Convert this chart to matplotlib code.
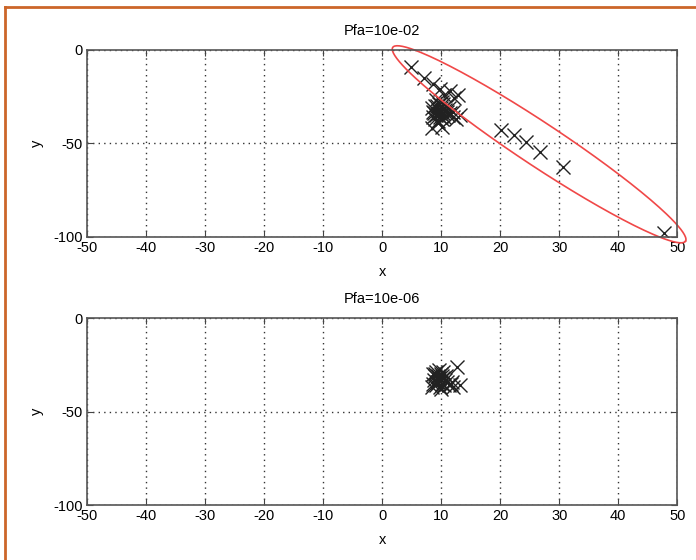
import numpy as np
import matplotlib
matplotlib.use("Agg")
import matplotlib.pyplot as plt
from matplotlib.lines import Line2D

plt.rcParams['font.family'] = ['Liberation Sans', 'DejaVu Sans']
plt.rcParams['font.size'] = 10
plt.rcParams['axes.unicode_minus'] = False

titles = ["Pfa=10e-02", "Pfa=10e-06"]

# detections, Pfa = 10e-02
x_top = [4.9, 7.1, 8.7, 9.8, 10.5, 11.5, 12.2, 12.8, 13.2, 12.0, 8.5, 10.2,
         20.2, 22.4, 24.3, 26.8, 30.6, 47.8,
         9.0, 9.5, 10.0, 8.8, 9.2, 9.8, 10.3, 10.6, 8.5, 9.6, 10.1, 8.9, 9.4,
         10.2, 11.0, 11.2, 8.7, 9.9, 9.3, 10.5, 11.5, 12.0, 8.6, 9.7, 10.8,
         9.1, 10.4, 11.3, 12.5, 9.5]
y_top = [-9, -15, -18, -21, -24, -22, -26, -24, -35, -33, -42, -41,
         -43, -45.5, -49.5, -54.5, -62.5, -98,
         -30, -32, -31, -34, -35, -36, -34, -32, -31, -29, -28, -37, -38,
         -37, -33, -35, -33, -33, -30, -36, -34, -36, -36, -34, -30,
         -27, -29, -31, -37, -39]

# detections, Pfa = 10e-06
x_bot = [9.0, 9.4, 9.9, 10.3, 8.8, 9.5, 10.1, 10.6, 9.2, 9.8, 8.6, 10.4,
         9.6, 11.0, 11.3, 8.9, 9.7, 10.2, 10.8, 9.3, 8.4, 10.0, 12.0, 11.6,
         12.7, 13.2, 9.1, 10.5, 11.9, 8.7]
y_bot = [-30, -31, -30, -32, -33, -34, -35, -33, -36, -37, -35, -29,
         -28, -34, -36, -31, -32, -31, -31, -34, -37, -38, -37, -35,
         -26, -36, -29, -36, -34, -30]

# gate ellipse (data units)
ell_center = (26.6, -50.5)
ell_major = (24.8, -51.8)
ell_minor = (2.0, 9.6)

fig = plt.figure(figsize=(6.96, 5.6), dpi=100)
ax1 = fig.add_axes([0.125, 0.577, 0.848, 0.334])
ax2 = fig.add_axes([0.125, 0.098, 0.848, 0.334])

for ax, t, xs, ys in [(ax1, titles[0], x_top, y_top), (ax2, titles[1], x_bot, y_bot)]:
    ax.plot(xs, ys, 'x', color='#222222', markersize=9.5, markeredgewidth=1.0)
    ax.set_xlim(-50, 50)
    ax.set_ylim(-100, 0)
    ax.set_xticks(np.arange(-50, 51, 10))
    ax.set_yticks([-100, -50, 0])
    ax.grid(True, linestyle=(0, (1, 3)), color='#333333', linewidth=1.0)
    ax.tick_params(direction='in', top=True, right=True, length=4,
                   color='#444444', labelsize=10.5)
    ax.tick_params(axis='x', pad=3)
    ax.tick_params(axis='y', pad=3)
    for s in ax.spines.values():
        s.set_color('#555555')
        s.set_linewidth(1.2)
    ax.set_title(t, fontsize=10.5, pad=11)
    ax.set_xlabel('x', fontsize=10.5, labelpad=7)
    ax.set_ylabel('y', fontsize=10.5, labelpad=7)

tt = np.linspace(0, 2 * np.pi, 200)
ex = ell_center[0] + ell_major[0] * np.cos(tt) + ell_minor[0] * np.sin(tt)
ey = ell_center[1] + ell_major[1] * np.cos(tt) + ell_minor[1] * np.sin(tt)
ax1.plot(ex, ey, color='#f04848', linewidth=1.2, clip_on=False)

# orange frame of the screenshot
fig.add_artist(Line2D([5 / 696, 1], [1 - 7 / 560, 1 - 7 / 560], color='#cc6629',
                      linewidth=2, transform=fig.transFigure))
fig.add_artist(Line2D([5 / 696, 5 / 696], [0, 1 - 7 / 560], color='#cc6629',
                      linewidth=2, transform=fig.transFigure))

fig.savefig('out.png', dpi=100)
